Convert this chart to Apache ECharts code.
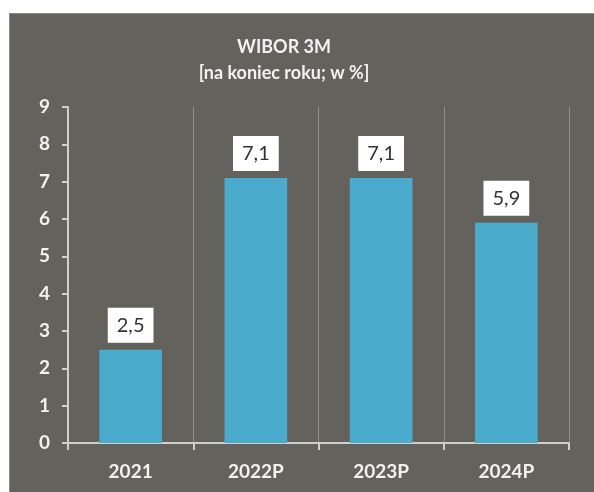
<!DOCTYPE html>
<html>
<head>
<meta charset="utf-8">
<script src="https://cdn.jsdelivr.net/npm/echarts@6/dist/echarts.min.js"></script>
<style>
  html, body { margin: 0; padding: 0; background: #fff; }
  #panel { position: absolute; left: 9px; top: 13px; width: 585px; height: 479px; background: #63625d; border-top: 1px solid #8a8985; border-left: 1px solid #8a8985; box-sizing: border-box; }
  #chart { position: absolute; left: 0; top: 0; width: 594px; height: 492px; }
</style>
</head>
<body>
<div id="panel"></div>
<div id="chart"></div>
<script>
// WIBOR 3M at year end, in %
const categories = ['2021', '2022P', '2023P', '2024P'];
const values = [2.5, 7.1, 7.1, 5.9];
const yTicks = [0, 1, 2, 3, 4, 5, 6, 7, 8, 9];

const chart = echarts.init(document.getElementById('chart'));

const labelColor = '#f2f2f2';
const font = 'Lato, "Open Sans", sans-serif';

chart.setOption({
  backgroundColor: 'transparent',
  title: {
    text: 'WIBOR 3M',
    subtext: '[na koniec roku; w %]',
    left: 279,
    top: 33,
    textAlign: 'center',
    itemGap: 8,
    textStyle: { color: labelColor, fontSize: 18, fontWeight: 'bold', fontFamily: font },
    subtextStyle: { color: labelColor, fontSize: 18, fontWeight: 'bold', fontFamily: font }
  },
  grid: { left: 68, right: 25, top: 107, bottom: 49 },
  xAxis: {
    type: 'category',
    data: categories,
    axisLine: { lineStyle: { color: '#cfcfcc', width: 2 } },
    axisTick: { show: true, length: 7, lineStyle: { color: '#cfcfcc', width: 2 } },
    axisLabel: { color: labelColor, fontSize: 19, fontWeight: 'bold', fontFamily: font, margin: 19 },
    splitLine: { show: true, lineStyle: { color: '#8e8d88', width: 1 } }
  },
  yAxis: {
    type: 'value',
    min: yTicks[0],
    max: yTicks[yTicks.length - 1],
    interval: 1,
    axisLine: { show: true, lineStyle: { color: '#cfcfcc', width: 2 } },
    axisTick: { show: true, length: 6, lineStyle: { color: '#cfcfcc', width: 2 } },
    axisLabel: { color: labelColor, fontSize: 19, fontWeight: 'bold', fontFamily: font, margin: 18 },
    splitLine: { show: false }
  },
  series: [{
    type: 'bar',
    data: values,
    barWidth: '50%',
    itemStyle: { color: '#4babcd' },
    label: {
      show: true,
      position: 'top',
      distance: 7,
      formatter: p => String(p.value).replace('.', ','),
      color: '#333',
      fontSize: 20,
      fontFamily: font,
      backgroundColor: '#ffffff',
      padding: [8, 9, 7, 9]
    }
  }]
});
</script>
</body>
</html>
